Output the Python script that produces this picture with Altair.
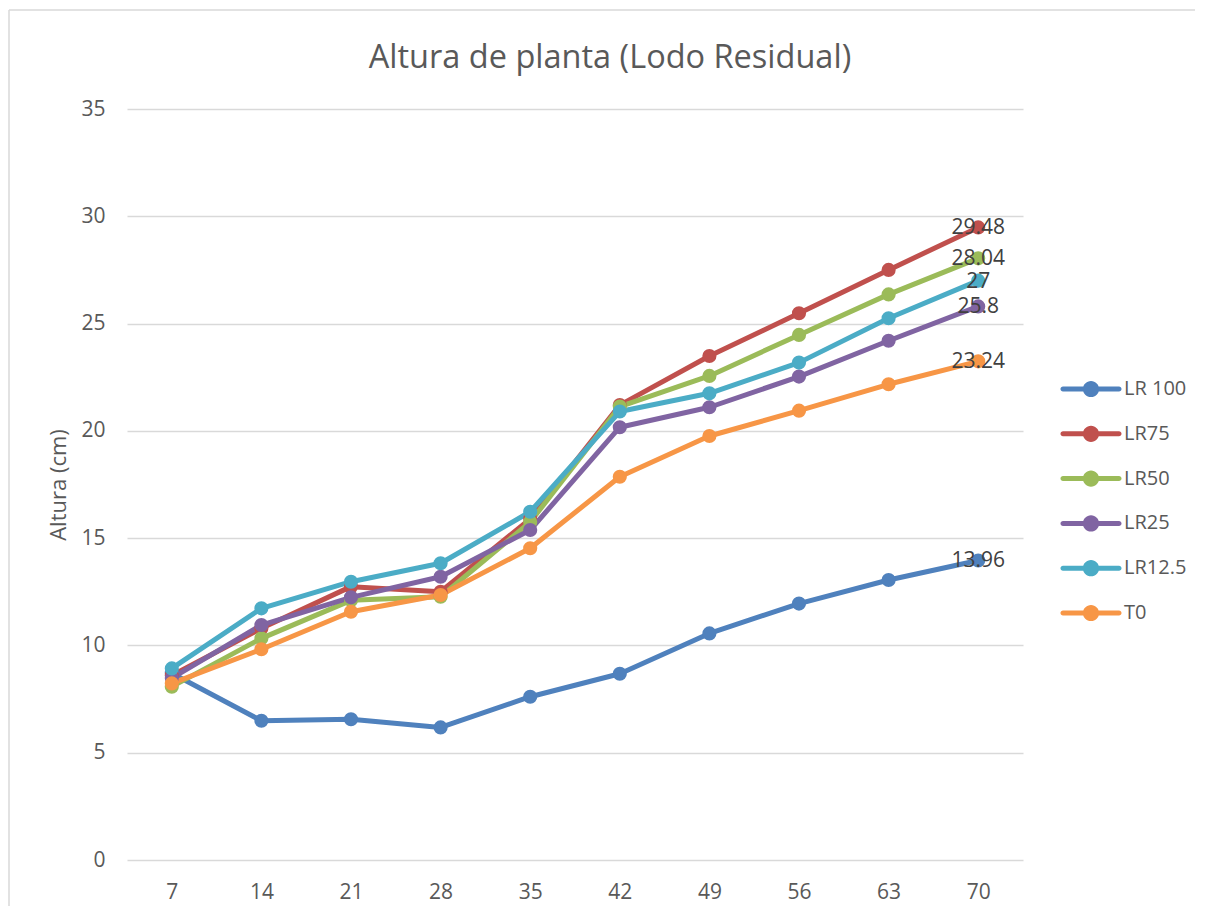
import altair as alt
import pandas as pd

days = [7, 14, 21, 28, 35, 42, 49, 56, 63, 70]
series_names = ["LR 100", "LR75", "LR50", "LR25", "LR12.5", "T0"]
lr100 = [8.7, 6.49, 6.56, 6.18, 7.61, 8.68, 10.56, 11.95, 13.05, 13.96]
lr75 = [8.6, 10.8, 12.74, 12.5, 15.9, 21.2, 23.49, 25.48, 27.5, 29.48]
lr50 = [8.08, 10.33, 12.1, 12.27, 15.75, 21.13, 22.56, 24.47, 26.36, 28.04]
lr25 = [8.48, 10.95, 12.24, 13.2, 15.38, 20.17, 21.1, 22.53, 24.2, 25.8]
lr125 = [8.93, 11.73, 12.97, 13.83, 16.23, 20.9, 21.75, 23.18, 25.25, 27.0]
t0 = [8.23, 9.82, 11.57, 12.35, 14.53, 17.86, 19.76, 20.94, 22.17, 23.24]
colors = ["#4F81BD", "#C0504D", "#9BBB59", "#8064A2", "#4BACC6", "#F79646"]

all_series = [lr100, lr75, lr50, lr25, lr125, t0]
rows = []
for si, (name, vals) in enumerate(zip(series_names, all_series)):
    for d, v in zip(days, vals):
        rows.append({"dia": str(d), "serie": name, "orden": si, "altura": v,
                     "etiqueta": f"{v:g}" if d == days[-1] else ""})
df = pd.DataFrame(rows)

W, H = 896, 751
x_enc = alt.X("dia:O", sort=[str(d) for d in days],
              scale=alt.Scale(type="point", padding=0.5),
              axis=alt.Axis(title=None, labelAngle=0, ticks=False, domain=False,
                            labelPadding=21, labelFontSize=21, labelColor="#595959",
                            labelFont="Open Sans"))
y_enc = alt.Y("altura:Q", scale=alt.Scale(domain=[0, 35], nice=False),
              axis=alt.Axis(values=list(range(0, 36, 5)), grid=True, gridColor="#d9d9d9",
                            gridWidth=1.5, domain=False, ticks=False, labelPadding=22,
                            labelFontSize=21, labelColor="#595959", labelFont="Open Sans",
                            title="Altura (cm)", titleFontSize=22, titleFontWeight="normal",
                            titleColor="#595959", titleFont="Open Sans", titlePadding=10))

color_scale = alt.Scale(domain=series_names, range=colors)
legend_path = ("M-1,-0.09H1A0.09,0.09,0,0,1,1,0.09H-1A0.09,0.09,0,0,1,-1,-0.09Z"
               "M-0.29,0A0.29,0.29,0,1,1,0.29,0A0.29,0.29,0,1,1,-0.29,0Z")
legend = alt.Legend(title=None, orient="none", legendX=936, legendY=252,
                    symbolType=legend_path, symbolSize=3136, symbolStrokeWidth=0,
                    labelFontSize=20, labelColor="#595959", labelFont="Open Sans",
                    rowPadding=6.8, labelOffset=5)

base = alt.Chart(df)
lines = base.mark_line(strokeWidth=5, strokeCap="round", strokeJoin="round").encode(
    x=x_enc, y=y_enc,
    color=alt.Color("serie:N", scale=color_scale, legend=None),
    detail="serie:N",
)

points = base.mark_point(filled=True, size=200, opacity=1).encode(
    x=x_enc, y=y_enc,
    color=alt.Color("serie:N", scale=color_scale, legend=legend),
)

labels = base.transform_filter("datum.etiqueta != ''").mark_text(
    fontSize=21, color="#404040", font="Open Sans", align="center", baseline="middle", dy=1
).encode(x=x_enc, y=y_enc, text="etiqueta:N")

one_row = alt.Data(values=[{"a": 1}])
frame_top = alt.Chart(one_row).mark_rule(stroke="#d9d9d9", strokeWidth=1.5).encode(
    x=alt.value(-118), x2=alt.value(1200), y=alt.value(-99))
frame_left = alt.Chart(one_row).mark_rule(stroke="#d9d9d9", strokeWidth=1.5).encode(
    x=alt.value(-118), y=alt.value(-99), y2=alt.value(820))

chart = alt.layer(frame_top, frame_left, lines, points, labels).properties(
    width=W, height=H,
    title=alt.TitleParams(text="Altura de planta (Lodo Residual)", fontSize=32.5,
                          font="Open Sans", color="#595959", fontWeight="normal",
                          anchor="middle", dx=35, offset=-91, baseline="alphabetic"),
    autosize=alt.AutoSizeParams(type="none"),
    padding={"left": 119, "top": 101, "right": 172, "bottom": 46},
).resolve_legend(color="independent").configure(font="Open Sans").configure_view(stroke=None)

chart.save("out.html", embed_options={"renderer": "svg", "actions": False})
